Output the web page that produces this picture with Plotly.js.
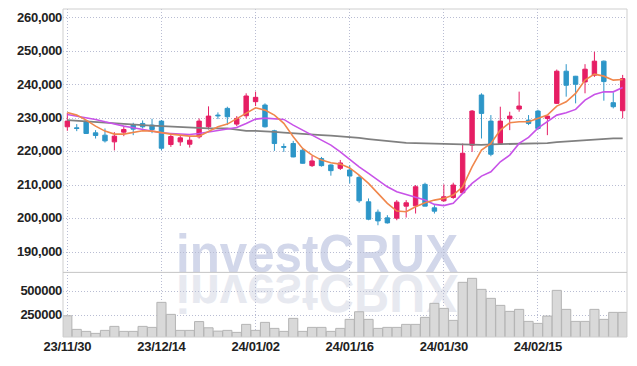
<!DOCTYPE html>
<html>
<head>
<meta charset="utf-8">
<script src="https://cdn.plot.ly/plotly-3.0.1.min.js"></script>
<style>
  html, body { margin: 0; padding: 0; background: #ffffff; }
  #wrap { position: relative; width: 637px; height: 366px; overflow: hidden; }
  #wm { position: absolute; left: 0; top: 0; z-index: 0; }
  #chart { position: absolute; left: 0; top: 0; width: 637px; height: 366px; z-index: 1; }
  #chart .xtick text, #chart .ytick text, #chart .y2tick text { letter-spacing: -0.3px; }
</style>
</head>
<body>
<div id="wrap">
  <svg id="wm" width="637" height="366" xmlns="http://www.w3.org/2000/svg">
    <text x="176" y="272" font-family="Liberation Sans, sans-serif" font-weight="bold" font-size="54" fill="#d2d7ea" textLength="282" lengthAdjust="spacingAndGlyphs">investCRUX</text>
    <text x="176" y="272" transform="translate(0,547) scale(1,-1)" font-family="Liberation Sans, sans-serif" font-weight="bold" font-size="54" fill="#e7e9f0" textLength="282" lengthAdjust="spacingAndGlyphs">investCRUX</text>
  </svg>
  <div id="chart"></div>
</div>
<script>
// Trading days (categories)
const dates = [
  "23/11/30","23/12/01","23/12/04","23/12/05","23/12/06","23/12/07","23/12/08","23/12/11","23/12/12","23/12/13",
  "23/12/14","23/12/15","23/12/18","23/12/19","23/12/20","23/12/21","23/12/22","23/12/26","23/12/27","23/12/28",
  "24/01/02","24/01/03","24/01/04","24/01/05","24/01/08","24/01/09","24/01/10","24/01/11","24/01/12","24/01/15",
  "24/01/16","24/01/17","24/01/18","24/01/19","24/01/22","24/01/23","24/01/24","24/01/25","24/01/26","24/01/29",
  "24/01/30","24/01/31","24/02/01","24/02/02","24/02/05","24/02/06","24/02/07","24/02/08","24/02/13","24/02/14",
  "24/02/15","24/02/16","24/02/19","24/02/20","24/02/21","24/02/22","24/02/23","24/02/26","24/02/27","24/02/28"
];
const openP = [
  227500,227200,229200,225700,225000,223000,225900,228000,228500,228000,
  229200,222200,223000,222300,224500,227500,231000,233000,228300,230800,
  235000,234000,226300,221600,222500,220500,215900,218000,216100,215100,
  214600,212400,205100,202000,200300,200200,203800,203900,210300,203300,
  205400,206400,207800,222000,237000,229200,222500,229900,232800,229500,
  232200,230000,234500,244100,242600,240900,242900,247100,234700,232300
];
const highP = [
  231700,228300,229500,226500,227000,225900,227500,228700,229400,229900,
  229500,225200,225000,224500,230000,233600,231800,233500,230700,237500,
  238000,234500,226600,222500,223300,221000,218800,218500,216300,217600,
  216000,213100,206100,202800,201100,205600,205600,210100,210800,204100,
  210300,210800,222500,232500,237500,231000,233500,232000,238000,231000,
  232600,230700,244600,246200,242700,246200,249900,247300,237800,243000
];
const lowP = [
  226300,226200,225400,224000,222800,220450,224700,225000,227000,225600,
  220500,221500,221800,221300,224000,226700,229800,228000,227700,230000,
  233700,227300,220300,220000,218400,216500,215500,215600,212900,214600,
  210600,204800,199600,198100,198600,199600,200400,201600,203800,201600,
  205100,206000,207500,220000,224000,218700,222400,226500,232000,228000,
  226500,225000,234300,236500,234500,237500,242400,235300,233000,230000
];
const closeP = [
  229200,227000,225500,224900,223300,224700,226700,226800,227500,226700,
  221100,224600,224200,223500,229200,230700,230800,230500,230000,236700,
  236300,227500,222500,221400,218500,216600,217300,215900,214400,216700,
  212800,205400,199900,199400,198800,205000,204800,209600,203800,202300,
  206600,210100,219600,232200,231500,219300,229200,230700,233700,228500,
  227000,230700,244100,239900,240200,244700,247100,241000,233500,241900
];
// Moving averages
const ma5 = [
  231790,230990,229490,227700,226210,225310,225310,225700,226300,226210,
  225700,225310,225010,224720,224720,226000,227490,228300,230000,231490,
  233160,232480,230990,228510,224510,221050,219040,217550,216750,216360,
  215220,213070,210600,207610,204630,202330,202120,203610,204810,205610,
  206120,207110,209580,215550,220540,222540,226510,228690,228990,228990,
  230000,230990,233670,234960,237460,241430,243220,242630,241430,241640
];
const ma10 = [
  231190,230690,230300,229700,228990,228300,227700,227190,226720,226210,
  225700,225520,225310,225220,225520,226000,226510,227010,227310,228510,
  229790,230090,230000,229700,228000,226510,225010,223730,222030,220030,
  217670,215550,213580,211580,209580,208090,207310,206600,205610,204330,
  203970,204630,207610,210600,212780,214060,217050,219040,222540,224330,
  227100,228990,230990,231670,232690,235460,237160,237940,237940,239250
];
const ma60 = [
  229490,229280,229100,228900,228690,228510,228330,228180,228000,227850,
  227700,227520,227340,227190,227010,227010,227010,227010,226660,226300,
  226270,226210,225970,225760,225520,225340,225190,225010,224840,224690,
  224510,224180,223850,223520,223250,222980,222720,222630,222540,222420,
  222330,222240,222120,222030,222120,222240,222330,222390,222480,222540,
  222480,222630,222930,223130,223310,223520,223700,223850,224030,224030
];
const volume = [
  244700,101900,80900,59900,91400,133400,80900,80900,133400,122900,
  385500,259500,91400,91400,183800,118700,84000,91400,70400,154400,
  91400,175400,112400,80900,217400,80900,122900,122900,80900,112400,
  206900,286800,206900,112400,122900,122900,154400,154400,227900,375000,
  322500,196400,595600,637600,522000,427500,354000,291000,312000,185900,
  164900,241600,511600,312000,185900,185900,312000,206900,280500,280500
];
const xTickVals = ["23/11/30","23/12/14","24/01/02","24/01/16","24/01/30","24/02/15"];
const priceTicks = [190000,200000,210000,220000,230000,240000,250000,260000];
const volTicks = [250000,500000];

const UP = '#e61e64', DOWN = '#2d96c8';
const tickFont = {family: 'Liberation Sans, sans-serif', size: 13, color: '#222222', weight: 'bold'};
const gridCol = '#b9bdd3';
const gridDash = '1px,2px';
const volSplit = 0.197;

const traces = [
  {
    type: 'candlestick', x: dates, open: openP, high: highP, low: lowP, close: closeP,
    xaxis: 'x', yaxis: 'y',
    increasing: {line: {color: UP, width: 1}, fillcolor: UP},
    decreasing: {line: {color: DOWN, width: 1}, fillcolor: DOWN},
    whiskerwidth: 0, hoverinfo: 'skip', showlegend: false
  },
  {type: 'scatter', mode: 'lines', x: dates, y: ma60, line: {color: '#808080', width: 1.8}, xaxis: 'x', yaxis: 'y', hoverinfo: 'skip', showlegend: false},
  {type: 'scatter', mode: 'lines', x: dates, y: ma10, line: {color: '#c853e8', width: 1.6}, xaxis: 'x', yaxis: 'y', hoverinfo: 'skip', showlegend: false},
  {type: 'scatter', mode: 'lines', x: dates, y: ma5, line: {color: '#f0874c', width: 1.6}, xaxis: 'x', yaxis: 'y', hoverinfo: 'skip', showlegend: false},
  {type: 'bar', x: dates, y: volume, xaxis: 'x', yaxis: 'y2',
    marker: {color: '#d9d9d9', line: {color: '#b4b4b4', width: 1}}, hoverinfo: 'skip', showlegend: false}
];

const layout = {
  width: 637, height: 366,
  margin: {l: 63, r: 10, t: 9, b: 29, pad: 0},
  paper_bgcolor: 'rgba(0,0,0,0)', plot_bgcolor: 'rgba(0,0,0,0)',
  showlegend: false, bargap: 0.03, boxgap: 0.33,
  xaxis: {
    type: 'category', anchor: 'y2', range: [-0.46, 59.46],
    tickmode: 'array', tickvals: xTickVals, ticktext: xTickVals,
    showgrid: true, gridcolor: gridCol, griddash: gridDash, gridwidth: 1,
    zeroline: false, showline: false, ticks: '', tickfont: tickFont,
    rangeslider: {visible: false}, fixedrange: true
  },
  yaxis: {
    domain: [volSplit, 1], range: [184020, 262680],
    tickmode: 'array', tickvals: priceTicks, tickformat: ',',
    showgrid: true, gridcolor: gridCol, griddash: gridDash, gridwidth: 1,
    zeroline: false, showline: false, ticks: '', tickfont: tickFont, ticklabelshift: -1
  },
  yaxis2: {
    domain: [0, volSplit], range: [22000, 700000],
    tickmode: 'array', tickvals: volTicks, tickformat: 'd',
    showgrid: true, gridcolor: gridCol, griddash: gridDash, gridwidth: 1,
    zeroline: false, showline: false, ticks: '', tickfont: tickFont, ticklabelshift: -1
  },
  shapes: [
    {type: 'rect', xref: 'paper', yref: 'paper', x0: 0, x1: 1, y0: 0, y1: 1, line: {color: '#cfcfcf', width: 1}, layer: 'above'},
    {type: 'line', xref: 'paper', yref: 'paper', x0: 0, x1: 1, y0: volSplit, y1: volSplit, line: {color: '#c4c4c4', width: 1}, layer: 'above'}
  ]
};

Plotly.newPlot('chart', traces, layout, {staticPlot: true, displayModeBar: false});
</script>
</body>
</html>
